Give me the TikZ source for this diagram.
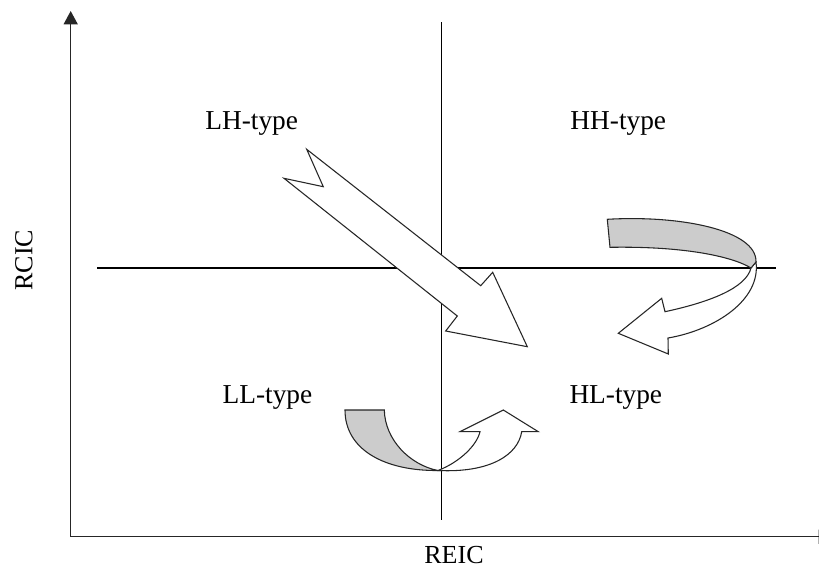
\documentclass[tikz,border=0pt]{standalone}
\usepackage{fontspec}
\setmainfont{Liberation Serif}
\usetikzlibrary{arrows.meta}
\tikzset{
  lbl/.style={anchor=base, inner sep=0pt, font=\fontsize{20.5pt}{24pt}\selectfont},
  axlbl/.style={anchor=base, inner sep=0pt, font=\fontsize{19.5pt}{23pt}\selectfont},
  axisline/.style={line width=1.1pt, draw=black!85, -{Triangle[width=10.5pt,length=10pt]}},
  quadline/.style={line width=0.8pt, draw=black},
  bandw/.style={fill=white, draw=black!85, line width=0.8pt, line join=miter},
  bandg/.style={fill=black!20, draw=black!85, line width=0.8pt, line join=miter},
}
\begin{document}
\begin{tikzpicture}[x=0.75pt,y=-0.75pt]
\clip (0,0) rectangle (819,568);
\fill[white] (0,0) rectangle (819,568);
% axes
\coordinate (O) at (70.7,536.7);
\coordinate (Ytop) at (70.7,11);
\coordinate (Xend) at (832,536.7);
\draw[axisline] (O) -- (Ytop);
\draw[axisline] (O) -- (Xend);
% quadrant lines
\coordinate (Vt) at (441.5,22);
\coordinate (Vb) at (441.5,520);
\coordinate (Hl) at (97,268);
\coordinate (Hr) at (776,268);
\draw[quadline] (Vt) -- (Vb);
\draw[quadline] (Hl) -- (Hr);
% labels
\node[lbl] (lh) at (251.7,129.3) {LH-type};
\node[lbl] (hh) at (618.3,129.3) {HH-type};
\node[lbl] (ll) at (267.5,403.3) {LL-type};
\node[lbl] (hl) at (615.8,403.3) {HL-type};
\node[axlbl] (reic) at (454,563.5) {REIC};
\node[axlbl, rotate=90] (rcic) at (32.5,260) {RCIC};
% big straight arrow LH -> HL
\draw[bandw] (306.7,149.3) -- (323.3,186.7) -- (284,178.3) -- (457.3,316) -- (445.7,331)
  -- (527.3,346.7) -- (492.7,272.3) -- (480.7,285.7) -- cycle;
% HH -> HL curved arrow
\draw[bandw] (756,262) .. controls (761,300) and (715,330) .. (668,338) -- (668.3,354)
  -- (618.3,333.3) -- (661.7,298.3) -- (665,311.7)
  .. controls (710,302) and (746,288) .. (751,268) -- cycle;
\draw[bandg] (607.3,219.3) .. controls (680,215) and (757,230) .. (756,262) -- (751,268)
  .. controls (735,258) and (690,246) .. (610,247.3) -- cycle;
% LL -> HL curved arrow
\draw[bandg] (345,410) -- (384.3,410) .. controls (385,440) and (410,465) .. (438,470.5)
  .. controls (385,471) and (345,450) .. (345,410) -- cycle;
\draw[bandw] (438,470.5) .. controls (490,473) and (518,455) .. (521.7,431.7) -- (538.3,431.7)
  -- (503.3,410) -- (460,431.7) -- (480,431.7)
  .. controls (477,445) and (460,462) .. (438,470.5) -- cycle;
\end{tikzpicture}
\end{document}
